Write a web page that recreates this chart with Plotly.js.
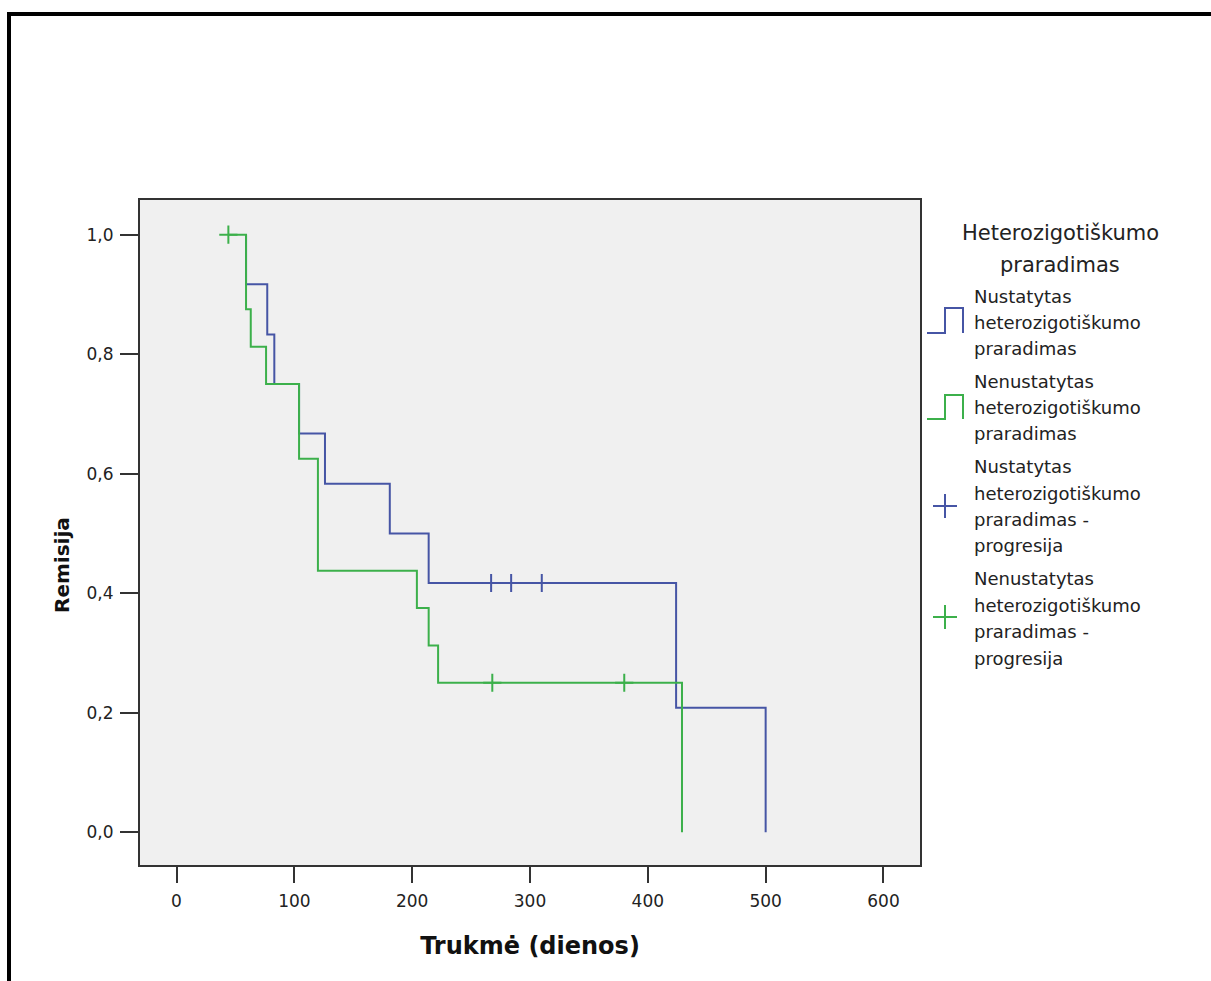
<!DOCTYPE html>
<html>
<head>
<meta charset="utf-8">
<script src="https://cdn.plot.ly/plotly-3.0.1.min.js"></script>
<style>
  html, body { margin: 0; padding: 0; background: #ffffff; width: 1211px; height: 981px; overflow: hidden; }
  #frame { position: absolute; left: 7px; top: 12px; width: 1300px; height: 1100px;
           border-top: 4px solid #000; border-left: 4px solid #000; pointer-events: none; z-index: 5; }
  #chart { position: absolute; left: 0; top: 0; width: 1211px; height: 981px; }
</style>
</head>
<body>
<div id="chart"></div>
<div id="frame"></div>
<script>
// ---- Data ----
// Group 1: Nustatytas heterozigotiškumo praradimas (blue)
const blueStartDay = 59;
const blueEventDays = [59, 77, 83, 104, 126, 181, 214, 424, 500];
const blueSurvival  = [0.917, 0.833, 0.75, 0.667, 0.583, 0.5, 0.417, 0.208, 0];
const blueCensorDays = [267, 284, 310];
const blueCensorSurv = [0.417, 0.417, 0.417];

// Group 2: Nenustatytas heterozigotiškumo praradimas (green)
const greenStartDay = 44;
const greenEventDays = [59, 63, 76, 104, 120, 204, 214, 222, 429];
const greenSurvival  = [0.875, 0.8125, 0.75, 0.625, 0.4375, 0.375, 0.3125, 0.25, 0];
const greenCensorDays = [44, 268, 380];
const greenCensorSurv = [1, 0.25, 0.25];

const xTickVals = [0, 100, 200, 300, 400, 500, 600];
const yTickVals = [0, 0.2, 0.4, 0.6, 0.8, 1.0];

const xTitle = 'Trukmė (dienos)';
const yTitle = 'Remisija';
const legendTitle = ["Heterozigotiškumo", "praradimas"];
const legendItems = [
  ["Nustatytas", "heterozigotiškumo", "praradimas"],
  ["Nenustatytas", "heterozigotiškumo", "praradimas"],
  ["Nustatytas", "heterozigotiškumo", "praradimas -", "progresija"],
  ["Nenustatytas", "heterozigotiškumo", "praradimas -", "progresija"]
];

// ---- Styling ----
const BLUE = '#4655A5';
const GREEN = '#3CB04B';
const FONT = 'DejaVu Sans, Verdana, sans-serif';

const W = 1211, H = 981;
const M = { l: 140, r: 291, t: 200, b: 116 };
const px = x => (x - M.l) / (W - M.l - M.r);
const py = y => (H - M.b - y) / (H - M.t - M.b);

function stepTrace(start, days, surv, color) {
  return {
    type: 'scatter', mode: 'lines', line: { color: color, width: 2, shape: 'hv' },
    x: [start].concat(days), y: [1].concat(surv), showlegend: false, hoverinfo: 'x+y'
  };
}
function censorTrace(days, surv, color) {
  return {
    type: 'scatter', mode: 'markers', x: days, y: surv, showlegend: false,
    marker: { symbol: 'cross-thin', size: 13, color: color, line: { color: color, width: 2 } }
  };
}

const data = [
  stepTrace(blueStartDay, blueEventDays, blueSurvival, BLUE),
  stepTrace(greenStartDay, greenEventDays, greenSurvival, GREEN),
  censorTrace(blueCensorDays, blueCensorSurv, BLUE),
  censorTrace(greenCensorDays, greenCensorSurv, GREEN)
];

// ---- Custom legend (text + icons) and y title ----
const annotations = [];
const titleY = [233, 265];
legendTitle.forEach((t, i) => annotations.push({
  xref: 'paper', yref: 'paper', x: px(1060), y: py(titleY[i]), xanchor: 'center', yanchor: 'middle',
  text: t, showarrow: false, font: { family: FONT, size: 21, color: '#222' }
}));
const itemLineY = [
  [296, 322, 348],
  [381, 407, 433],
  [466, 493, 519, 545],
  [578, 605, 631, 658]
];
legendItems.forEach((lines, k) => lines.forEach((t, i) => annotations.push({
  xref: 'paper', yref: 'paper', x: px(972), y: py(itemLineY[k][i]), xanchor: 'left', yanchor: 'middle',
  text: t, showarrow: false, font: { family: FONT, size: 18, color: '#222' }
})));
annotations.push({
  xref: 'paper', yref: 'paper', x: px(62), y: py(565), xanchor: 'center', yanchor: 'middle',
  text: yTitle, textangle: -90, showarrow: false, font: { family: FONT, size: 20, color: '#111', weight: 'bold' }
});

function stepIcon(top, bottom, color) {
  const p = `M${px(927)},${py(bottom)} L${px(945)},${py(bottom)} L${px(945)},${py(top)} L${px(963)},${py(top)} L${px(963)},${py(bottom)}`;
  return { type: 'path', xref: 'paper', yref: 'paper', path: p, line: { color: color, width: 2 } };
}
function plusIcon(cx, cy, color) {
  return [
    { type: 'line', xref: 'paper', yref: 'paper', x0: px(cx - 12), x1: px(cx + 12), y0: py(cy), y1: py(cy), line: { color: color, width: 2 } },
    { type: 'line', xref: 'paper', yref: 'paper', x0: px(cx), x1: px(cx), y0: py(cy - 12), y1: py(cy + 12), line: { color: color, width: 2 } }
  ];
}
const shapes = [
  stepIcon(308, 333, BLUE),
  stepIcon(395, 419, GREEN)
].concat(plusIcon(945, 506, BLUE), plusIcon(945, 617, GREEN));

const layout = {
  width: W, height: H,
  margin: M,
  paper_bgcolor: 'rgba(0,0,0,0)',
  plot_bgcolor: '#F0F0F0',
  separators: ', ',
  showlegend: false,
  font: { family: FONT, color: '#222' },
  xaxis: {
    range: [-31, 631], tickvals: xTickVals, ticks: 'outside', ticklen: 16, tickwidth: 2, tickcolor: '#333',
    showgrid: false, zeroline: false, showline: true, linecolor: '#333', linewidth: 2, mirror: true,
    tickfont: { family: FONT, size: 17, color: '#222' }, ticklabelstandoff: 4,
    title: { text: xTitle, font: { family: FONT, size: 24, color: '#111', weight: 'bold' }, standoff: 27 }
  },
  yaxis: {
    range: [-0.055, 1.058], tickvals: yTickVals, tickformat: '.1f', ticks: 'outside', ticklen: 18, tickwidth: 2, tickcolor: '#333',
    showgrid: false, zeroline: false, showline: true, linecolor: '#333', linewidth: 2, mirror: true,
    tickfont: { family: FONT, size: 17, color: '#222' }, ticklabelstandoff: 3
  },
  annotations: annotations,
  shapes: shapes
};

Plotly.newPlot('chart', data, layout, { displayModeBar: false, staticPlot: true });
</script>
</body>
</html>
